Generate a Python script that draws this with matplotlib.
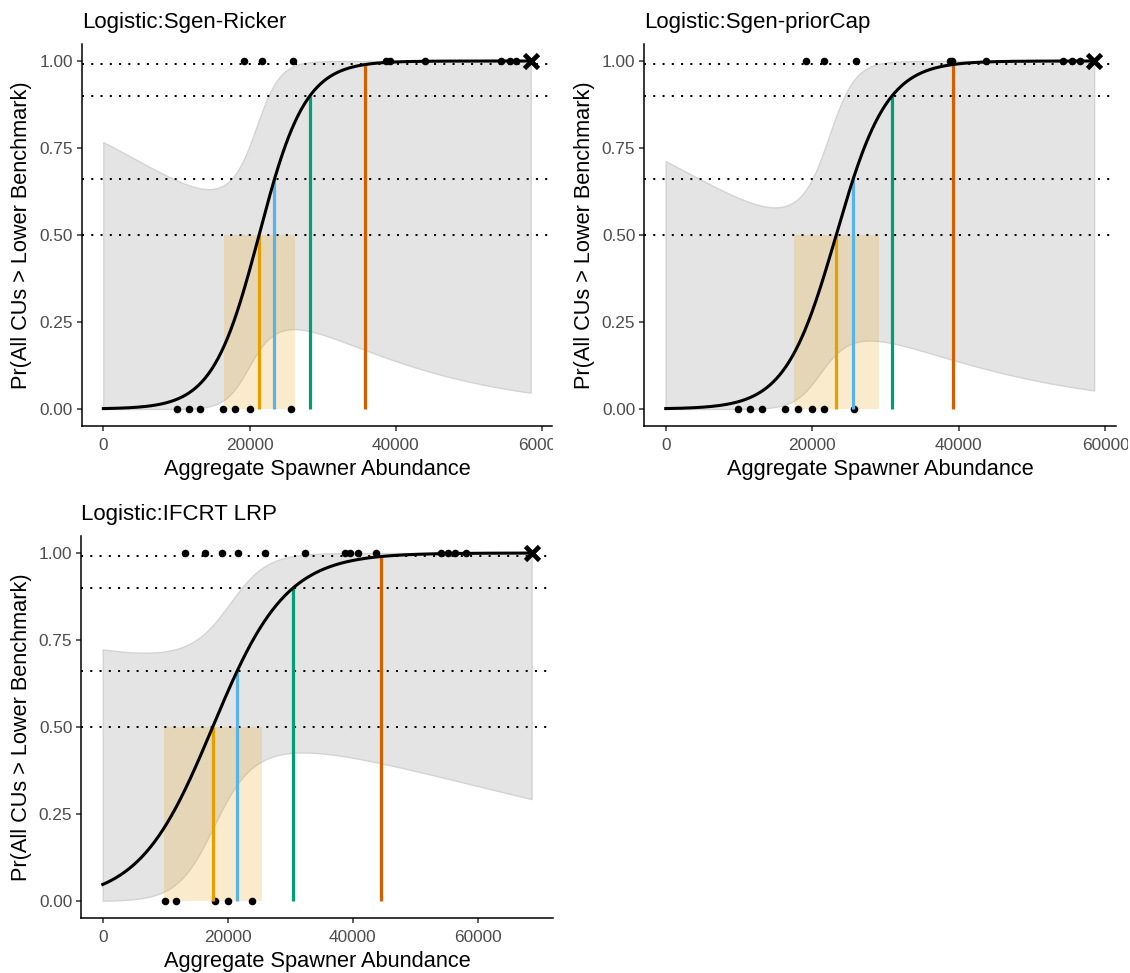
import matplotlib.pyplot as plt
import numpy as np
from matplotlib.transforms import Bbox

plt.rcParams["font.family"] = ["Liberation Sans", "DejaVu Sans"]

# logistic fits: intercept, slope and covariance of (intercept, slope)
titles = ["Logistic:Sgen-Ricker", "Logistic:Sgen-priorCap", "Logistic:IFCRT LRP"]
b0 = [-6.724, -6.697, -2.997]
b1 = [3.157e-4, 2.879e-4, 1.703e-4]
v11 = [16.30, 15.04, 4.074]
v12 = [-7.75e-4, -6.750e-4, -1.876e-4]
v22 = [3.83e-8, 3.158e-8, 9.665e-9]

# current aggregate abundance (end of prediction range)
x_now = [58450, 58450, 68640]

# uncertainty interval on the 50% aggregate benchmark
lrp_lo = [16520, 17490, 9830]
lrp_hi = [26210, 29040, 25420]

# years with at least one CU below its lower benchmark (y = 0) or none (y = 1)
obs_fail = [
    [10060, 11650, 13240, 16420, 18060, 20070, 25700],
    [9900, 11490, 13130, 16310, 18000, 19950, 21540, 25630],
    [9940, 11700, 17970, 20000, 23890],
]
obs_pass = [
    [19250, 21660, 25980, 38730, 39180, 43960, 54430, 55560, 56480],
    [19090, 21540, 25900, 38760, 39130, 43770, 54210, 55440, 56490],
    [13130, 16430, 19150, 21620, 25940, 32450, 38780, 39580, 40780, 43660,
     54180, 55340, 56420, 58130],
]

p_levels = [0.5, 0.66, 0.9, 0.99]
p_cols = ["#E69F00", "#56B4E9", "#009E73", "#D55E00"]

W, H = 1130, 973
fig = plt.figure(figsize=(W / 100, H / 100), dpi=100)

# axes boxes in pixels: left, top, right, bottom
boxes = [(82, 43.6, 552, 426.4), (644.3, 43.6, 1115.5, 426.4), (81.3, 535.6, 553, 918.4)]
clip_right = [553, 1128, 1130]


def expit(z):
    return 1.0 / (1.0 + np.exp(-z))


for i in range(3):
    l, t, r, b = boxes[i]
    aw, ah = r - l, b - t
    ax = fig.add_axes([l / W, 1 - b / H, aw / W, ah / H])

    x = np.linspace(0, x_now[i], 400)
    eta = b0[i] + b1[i] * x
    se = np.sqrt(v11[i] + 2 * v12[i] * x + v22[i] * x ** 2)
    ax.fill_between(x, expit(eta - 1.96 * se), expit(eta + 1.96 * se),
                    facecolor="#e4e4e4", edgecolor="#d3d3d3", lw=1.0, zorder=1)

    ax.fill_between([lrp_lo[i], lrp_hi[i]], 0, 0.5, facecolor="#E69F00",
                    alpha=0.2, lw=0, zorder=2)

    for p in [0.99, 0.9, 0.66, 0.5]:
        ax.axhline(p, color="black", lw=1.45, ls=(0, (1, 3.6)), zorder=3)

    ax.scatter(obs_fail[i], np.zeros(len(obs_fail[i])), s=30, color="black",
               lw=0, zorder=4)
    ax.scatter(obs_pass[i], np.ones(len(obs_pass[i])), s=30, color="black",
               lw=0, zorder=4)

    for p, c in zip(p_levels, p_cols):
        xp = (np.log(p / (1 - p)) - b0[i]) / b1[i]
        ax.plot([xp, xp], [0, p], color=c, lw=2.3, solid_capstyle="butt", zorder=5)

    ax.plot(x, expit(eta), color="black", lw=2.2, zorder=6)
    ax.plot([x_now[i]], [1.0], marker="x", ms=10.5, mew=3.4, color="black",
            ls="none", zorder=7)

    ax.set_xlim(-0.05 * x_now[i], x_now[i] * 1.05)
    ax.set_ylim(-0.05, 1.05)
    ax.set_xticks([0, 20000, 40000, 60000])
    ax.set_xticklabels(["0", "20000", "40000", "60000"])
    ax.set_yticks([0, 0.25, 0.5, 0.75, 1.0])
    ax.set_yticklabels(["0.00", "0.25", "0.50", "0.75", "1.00"])

    for s in ["top", "right"]:
        ax.spines[s].set_visible(False)
    for s in ["left", "bottom"]:
        ax.spines[s].set_linewidth(1.1)
    ax.tick_params(direction="out", length=3.5, width=1.1, color="#333333",
                   labelcolor="#4d4d4d", labelsize=12.4)
    ax.tick_params(axis="x", pad=5)
    ax.tick_params(axis="y", pad=3)

    ax.set_xlabel("Aggregate Spawner Abundance", fontsize=15.7, va="baseline")
    ax.xaxis.set_label_coords(0.5, -48.3 / ah)
    ax.set_ylabel("Pr(All CUs > Lower Benchmark)", fontsize=15.7, va="center")
    ax.yaxis.set_label_coords(-60 / aw, 0.5)
    ax.set_title(titles[i], loc="left", fontsize=16, pad=11.5)

    # tick labels cut at the edge of each plot's own region
    clip = Bbox.from_extents(0, 0, clip_right[i], H)
    for lab in ax.get_xticklabels():
        lab.set_clip_on(True)
        lab.set_clip_box(clip)

fig.savefig("out.png", dpi=100)
